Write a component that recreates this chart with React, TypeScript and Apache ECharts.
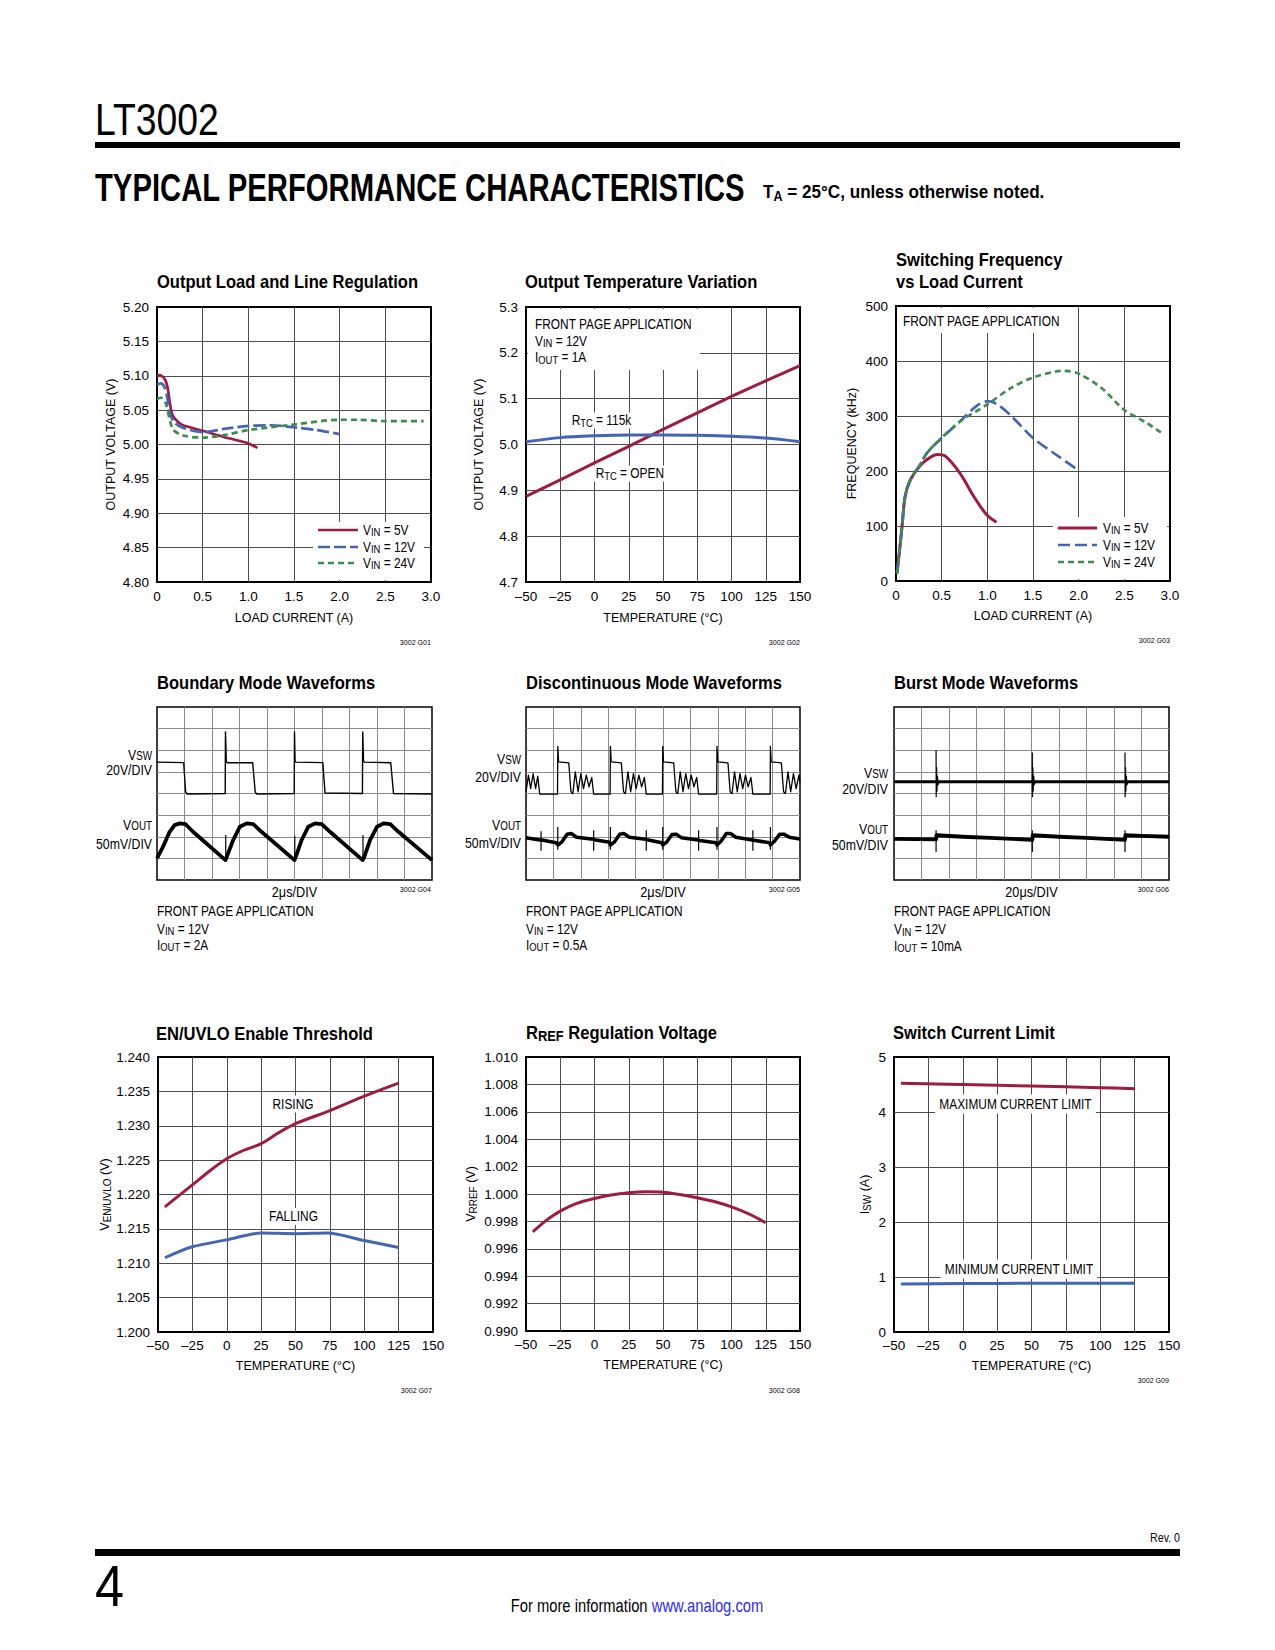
import React, { useEffect, useRef } from "react";
import * as echarts from "echarts";

const RED = "#9d1c40";
const BLUE = "#4465b4";
const GREEN = "#3d8c4c";
const GRID_C = "#4d4d4d";
const SCOPE_C = "#8a8a8a";
const SANS = "'Liberation Sans', Arial, Helvetica, sans-serif";
const COND = 0.82;

// ---------- G01 Output Load and Line Regulation (load current A, output V) ----------
const loadRegVin5: [number, number][] = [
  [0, 5.1], [0.03, 5.101], [0.06, 5.099], [0.09, 5.094], [0.117, 5.082], [0.139, 5.062],
  [0.164, 5.045], [0.2, 5.037], [0.27, 5.029], [0.36, 5.025], [0.5, 5.02], [0.73, 5.011],
  [0.99, 5.002], [1.1, 4.995],
];
const loadRegVin12: [number, number][] = [
  [0, 5.087], [0.04, 5.089], [0.08, 5.084], [0.11, 5.07], [0.146, 5.043], [0.2, 5.031],
  [0.29, 5.024], [0.5, 5.018], [0.75, 5.023], [1.0, 5.027], [1.25, 5.028], [1.5, 5.025],
  [1.75, 5.021], [2.0, 5.015],
];
const loadRegVin24: [number, number][] = [
  [0, 5.066], [0.04, 5.068], [0.09, 5.062], [0.146, 5.033], [0.18, 5.021], [0.29, 5.013],
  [0.5, 5.01], [0.75, 5.014], [1.0, 5.021], [1.5, 5.029], [2.0, 5.036], [2.2, 5.036],
  [2.5, 5.034], [2.92, 5.034],
];

// ---------- G02 Output Temperature Variation ----------
const tempVarOpen: [number, number][] = [
  [-50, 4.887], [-25, 4.923], [0, 4.96], [25, 4.996], [50, 5.033], [75, 5.069],
  [100, 5.105], [125, 5.139], [150, 5.172],
];
const tempVar115k: [number, number][] = [
  [-50, 5.006], [-25, 5.015], [0, 5.019], [25, 5.021], [50, 5.021], [75, 5.02],
  [100, 5.018], [125, 5.014], [150, 5.006],
];

// ---------- G03 Switching Frequency vs Load Current (A, kHz) ----------
const freqVin5: [number, number][] = [
  [0.011, 14], [0.036, 51], [0.066, 99], [0.1, 154], [0.157, 184], [0.266, 210],
  [0.375, 225], [0.45, 230], [0.54, 227], [0.7, 196], [0.85, 154], [0.99, 121], [1.1, 107],
];
const freqVin12: [number, number][] = [
  [0.011, 14], [0.036, 51], [0.066, 99], [0.1, 154], [0.157, 184], [0.266, 212],
  [0.34, 233], [0.48, 257], [0.7, 290], [0.88, 318], [1.0, 327], [1.1, 322], [1.25, 302],
  [1.5, 260], [1.75, 230], [2.0, 201],
];
const freqVin24: [number, number][] = [
  [0.011, 14], [0.036, 51], [0.066, 99], [0.1, 154], [0.157, 184], [0.266, 212],
  [0.34, 233], [0.48, 257], [0.7, 290], [1.0, 321], [1.25, 350], [1.5, 370], [1.75, 381],
  [1.85, 382], [2.0, 377], [2.25, 351], [2.5, 311], [2.75, 287], [2.9, 270],
];

// ---------- G04 Boundary Mode Waveforms (divisions: x 0-10, y 0-8) ----------
const boundaryVsw: [number, number][] = [
  [0, 5.45], [0.97, 5.43], [1.04, 4.08], [1.09, 3.98], [2.48, 4.0], [2.49, 6.85], [2.52, 5.5],
  [2.55, 5.42], [3.48, 5.42], [3.57, 4.08], [3.62, 3.98], [4.99, 4.0], [5.0, 6.85], [5.02, 5.5],
  [5.05, 5.45], [6.03, 5.43], [6.11, 4.02], [7.47, 4.0], [7.48, 6.85], [7.51, 5.5], [7.55, 5.45],
  [8.5, 5.42], [8.6, 4.0], [10, 3.98],
];
const boundaryVout: [number, number][] = [
  [0, 1.0], [0.22, 1.54], [0.46, 2.23], [0.64, 2.54], [0.83, 2.62], [1.04, 2.58], [1.31, 2.23],
  [2.49, 0.92], [2.54, 1.08], [2.77, 1.85], [3.01, 2.46], [3.26, 2.62], [3.5, 2.58],
  [3.8, 2.23], [5.0, 0.92], [5.05, 1.08], [5.26, 1.85], [5.5, 2.46], [5.75, 2.62],
  [5.99, 2.58], [6.29, 2.23], [7.48, 0.92], [7.54, 1.08], [7.75, 1.85], [8.0, 2.46],
  [8.24, 2.62], [8.48, 2.58], [8.78, 2.23], [10, 0.92],
];
const boundaryVoutSpikes: [number, number | null][] = [
  [2.5, 1.0], [2.5, 2.08], [2.5, null], [5.01, 1.0], [5.01, 2.03], [5.01, null], [7.49, 1.0], [7.49, 2.08],
];

// ---------- G05 Discontinuous Mode Waveforms ----------
const discVsw: [number, number][] = [
  [0, 4.08], [0.09, 4.85], [0.17, 4.23], [0.26, 4.92], [0.35, 4.23], [0.43, 4.8], [0.5, 3.97],
  [1.15, 3.97], [1.16, 6.18], [1.19, 5.46], [1.56, 5.42], [1.64, 4.08], [1.71, 4.0], [1.8, 5.0],
  [1.9, 4.08], [2.0, 4.92], [2.1, 4.23], [2.2, 4.85], [2.3, 4.31], [2.4, 4.74], [2.47, 3.97],
  [3.07, 3.97], [3.08, 6.18], [3.11, 5.46], [3.48, 5.42], [3.56, 4.08], [3.63, 4.0], [3.72, 5.0],
  [3.82, 4.08], [3.92, 4.92], [4.02, 4.23], [4.12, 4.85], [4.22, 4.31], [4.32, 4.74], [4.39, 3.97],
  [4.98, 3.97], [4.99, 6.18], [5.02, 5.46], [5.39, 5.42], [5.47, 4.08], [5.54, 4.0], [5.63, 5.0],
  [5.73, 4.08], [5.83, 4.92], [5.93, 4.23], [6.03, 4.85], [6.13, 4.31], [6.23, 4.74], [6.3, 3.97],
  [6.96, 3.97], [6.97, 6.18], [7.0, 5.46], [7.37, 5.42], [7.45, 4.08], [7.52, 4.0], [7.61, 5.0],
  [7.71, 4.08], [7.81, 4.92], [7.91, 4.23], [8.01, 4.85], [8.11, 4.31], [8.21, 4.74], [8.28, 3.97],
  [8.91, 3.97], [8.92, 6.18], [8.95, 5.46], [9.32, 5.42], [9.4, 4.08], [9.47, 4.0], [9.56, 5.0],
  [9.66, 4.08], [9.76, 4.92], [9.86, 4.23], [9.96, 4.85], [10, 4.5],
];
const discVout: [number, number][] = [
  [0, 1.95], [0.5, 1.85], [0.58, 1.85], [1.1, 1.72], [1.16, 1.62], [1.3, 1.75], [1.5, 2.12],
  [1.65, 2.15], [1.85, 1.98], [2.45, 1.88], [2.5, 1.86], [3.05, 1.75], [3.08, 1.62], [3.22, 1.75],
  [3.42, 2.12], [3.57, 2.15], [3.77, 1.98], [4.37, 1.88], [4.42, 1.86], [4.96, 1.72], [4.99, 1.62],
  [5.13, 1.75], [5.33, 2.1], [5.48, 2.12], [5.68, 1.95], [6.28, 1.85], [6.33, 1.83], [6.94, 1.72],
  [6.97, 1.62], [7.11, 1.78], [7.31, 2.15], [7.46, 2.15], [7.66, 1.98], [8.26, 1.85], [8.31, 1.84],
  [8.89, 1.72], [8.92, 1.62], [9.06, 1.78], [9.26, 2.12], [9.41, 2.12], [9.61, 1.98], [10, 1.9],
];
const discVoutSpikes: [number, number | null][] = [
  [0.55, 2.25], [0.55, 1.35], [0.55, null], [1.16, 2.45], [1.16, 1.4], [1.16, null],
  [2.47, 2.3], [2.47, 1.35], [2.47, null], [3.08, 2.45], [3.08, 1.4], [3.08, null],
  [4.39, 2.3], [4.39, 1.35], [4.39, null], [4.99, 2.45], [4.99, 1.4], [4.99, null],
  [6.3, 2.3], [6.3, 1.35], [6.3, null], [6.97, 2.45], [6.97, 1.4], [6.97, null],
  [8.28, 2.3], [8.28, 1.35], [8.28, null], [8.92, 2.45], [8.92, 1.4],
];

// ---------- G06 Burst Mode Waveforms ----------
const burstVsw: [number, number][] = [[0, 4.54], [10, 4.54]];
const burstVswSpikes: [number, number | null][] = [
  [1.53, 6.0], [1.535, 3.85], [1.55, 5.2], [1.56, 4.1], [1.58, 4.8], [1.6, 4.4], [1.65, 4.54], [1.65, null],
  [5.03, 5.9], [5.035, 3.85], [5.05, 5.2], [5.06, 4.1], [5.08, 4.8], [5.1, 4.4], [5.15, 4.54], [5.15, null],
  [8.4, 5.9], [8.405, 3.85], [8.42, 5.2], [8.43, 4.1], [8.45, 4.8], [8.47, 4.4], [8.52, 4.54],
];
const burstVout: [number, number][] = [
  [0, 1.9], [1.53, 1.88], [1.545, 2.07], [2.5, 2.0], [3.5, 1.95], [5.03, 1.86], [5.045, 2.07],
  [6.0, 2.0], [7.0, 1.95], [8.4, 1.86], [8.415, 2.07], [9.0, 2.04], [10, 2.0],
];
const burstVoutSpikes: [number, number | null][] = [
  [1.53, 2.3], [1.53, 1.3], [1.53, null], [5.03, 2.3], [5.03, 1.3], [5.03, null], [8.4, 2.3], [8.4, 1.3],
];

// ---------- G07 EN/UVLO Enable Threshold ----------
const enRising: [number, number][] = [
  [-45, 1.2182], [-25, 1.2214], [-12, 1.2235], [0, 1.2252], [12, 1.2264], [25, 1.2274],
  [37, 1.2289], [50, 1.2303], [75, 1.2322], [100, 1.2343], [125, 1.2362],
];
const enFalling: [number, number][] = [
  [-45, 1.2108], [-25, 1.2124], [0, 1.2134], [25, 1.2144], [50, 1.2143], [73, 1.2144],
  [100, 1.2133], [125, 1.2123],
];

// ---------- G08 RREF Regulation Voltage ----------
const rrefVoltage: [number, number][] = [
  [-45, 0.99724], [-35, 0.99809], [-25, 0.99875], [-13, 0.99931], [0, 0.99967], [12, 0.99992],
  [25, 1.00009], [38, 1.00016], [50, 1.00013], [62, 0.99997], [75, 0.99972], [88, 0.99943],
  [100, 0.99906], [113, 0.99853], [125, 0.9979],
];

// ---------- G09 Switch Current Limit ----------
const maxCurrentLimit: [number, number][] = [[-45, 4.521], [0, 4.502], [50, 4.472], [100, 4.442], [125, 4.424]];
const minCurrentLimit: [number, number][] = [[-45, 0.875], [0, 0.88], [50, 0.885], [100, 0.885], [125, 0.885]];

// ---------- tick label formats ----------
const fmtLoad = (v: number) => (v === 0 ? "0" : v.toFixed(1));
const fmtTemp = (v: number) => (v < 0 ? "\u2013" + Math.abs(v) : String(v));
const fmtDec = (d: number) => (v: number) => v.toFixed(d);
const fmtInt = (v: number) => String(Math.round(v));

const GRIDS = [
  { left: 157, top: 307, width: 274, height: 275 },
  { left: 526, top: 307, width: 274, height: 275 },
  { left: 896, top: 306, width: 274, height: 275 },
  { left: 157, top: 707, width: 275, height: 173 },
  { left: 526, top: 707, width: 274, height: 173 },
  { left: 894, top: 707, width: 275, height: 173 },
  { left: 158, top: 1057, width: 275, height: 275 },
  { left: 526, top: 1057, width: 274, height: 274 },
  { left: 894, top: 1057, width: 275, height: 275 },
];

const NAME_STYLE = {
  color: "#000",
  fontFamily: SANS,
  fontSize: 12.5,
  lineHeight: 15,
  rich: {
    n: { color: "#000", fontFamily: SANS, fontSize: 12.5, lineHeight: 15 },
    s: { color: "#000", fontFamily: SANS, fontSize: 10, lineHeight: 7, verticalAlign: "bottom" },
  },
};

function plotAxis(gi: number, min: number, max: number, interval: number, name: string, fmt: any, nameGap: number, margin: number) {
  return {
    type: "value",
    gridIndex: gi,
    min,
    max,
    interval,
    axisLine: { show: false },
    axisTick: { show: false },
    splitLine: { show: true, showMinLine: false, showMaxLine: false, lineStyle: { color: GRID_C, width: 1 } },
    axisLabel: {
      show: true,
      formatter: fmt,
      color: "#000",
      fontSize: 13.5,
      fontFamily: SANS,
      margin,
      showMinLabel: true,
      showMaxLabel: true,
    },
    name,
    nameLocation: "middle",
    nameGap,
    nameTextStyle: NAME_STYLE,
  };
}

function scopeAxis(gi: number, max: number) {
  return {
    type: "value",
    gridIndex: gi,
    min: 0,
    max,
    interval: 1,
    axisLine: { show: false },
    axisTick: { show: false },
    axisLabel: { show: false },
    splitLine: { show: true, showMinLine: false, showMaxLine: false, lineStyle: { color: SCOPE_C, width: 1 } },
  };
}

function ln(idx: number, name: string, data: any[], color: string, width: number, dash?: number[], smooth: number | false = 0.3) {
  return {
    type: "line",
    name,
    xAxisIndex: idx,
    yAxisIndex: idx,
    data,
    symbol: "none",
    showSymbol: false,
    smooth,
    connectNulls: false,
    silent: true,
    z: 3,
    lineStyle: { color, width, type: dash || "solid", cap: "butt", join: "round" },
  };
}

const RN = {
  n: { fontSize: 14.5, fontFamily: SANS, lineHeight: 16, fill: "#000" },
  s: { fontSize: 11.5, fontFamily: SANS, lineHeight: 8, verticalAlign: "bottom", fill: "#000" },
};
const RS = {
  n: { fontSize: 15, fontFamily: SANS, lineHeight: 13, fill: "#000" },
  s: { fontSize: 12, fontFamily: SANS, lineHeight: 6, verticalAlign: "bottom", fill: "#000" },
};
const sub = (a: string, b: string, c: string) => `{n|${a}}{s|${b}}{n|${c}}`;

function T(x: number, y: number, text: string, o: any = {}) {
  const style: any = {
    text,
    fill: o.fill || "#000",
    fontSize: o.size || 14.5,
    fontFamily: o.family || SANS,
    fontWeight: o.weight || "normal",
    textAlign: o.align || "left",
    textVerticalAlign: "middle",
  };
  if (o.rich) style.rich = o.rich;
  if (o.bg) {
    style.backgroundColor = o.bg;
    style.padding = o.pad || [1, 3];
  }
  return { type: "text", x, y, scaleX: o.sx || COND, z: o.z || 10, silent: true, style };
}
const TITLE = { weight: "bold", size: 18, sx: 0.92 };
const CODE = { size: 7.5, align: "right", sx: 0.95 };
const rect = (x: number, y: number, w: number, h: number, fill = "#fff", z = 1) => ({
  type: "rect",
  shape: { x, y, width: w, height: h },
  style: { fill },
  z,
  silent: true,
});
const seg = (x1: number, x2: number, y: number, color: string, w: number, dash?: number[]) => ({
  type: "line",
  shape: { x1, y1: y, x2, y2: y },
  style: { stroke: color, lineWidth: w, lineDash: dash || null },
  z: 5,
  silent: true,
});

function buildGraphic() {
  const HDR_RICH = {
    b: { fontSize: 19, fontWeight: "bold", fontFamily: SANS, lineHeight: 22, fill: "#000" },
    bs: { fontSize: 14, fontWeight: "bold", fontFamily: SANS, lineHeight: 10, verticalAlign: "bottom", fill: "#000" },
  };
  const T8_RICH = {
    b: { fontSize: 18, fontWeight: "bold", fontFamily: SANS, lineHeight: 21, fill: "#000" },
    bs: { fontSize: 14, fontWeight: "bold", fontFamily: SANS, lineHeight: 10, verticalAlign: "bottom", fill: "#000" },
  };
  const FOOT_RICH = {
    a: { fontSize: 18, fontFamily: SANS, fill: "#000" },
    l: { fontSize: 18, fontFamily: SANS, fill: "#2b2bff" },
  };
  return [
    // header
    T(95, 120, "LT3002", { size: 45, sx: 0.83 }),
    rect(95, 142, 1085, 6, "#000", 5),
    T(95, 188, "TYPICAL PERFORMANCE CHARACTERISTICS", { weight: 900, size: 38, sx: 0.77 }),
    T(763, 192, "{b|T}{bs|A}{b| = 25°C, unless otherwise noted.}", { rich: HDR_RICH, sx: 0.9 }),

    // G01
    T(157, 281.5, "Output Load and Line Regulation", TITLE),
    rect(313, 522, 111, 58),
    seg(318, 358, 530, RED, 2.7),
    seg(318, 358, 547, BLUE, 2.7, [12, 4]),
    seg(318, 358, 563, GREEN, 2.7, [6, 4]),
    T(363, 530, sub("V", "IN", " = 5V"), { rich: RN }),
    T(363, 547, sub("V", "IN", " = 12V"), { rich: RN }),
    T(363, 563, sub("V", "IN", " = 24V"), { rich: RN }),
    T(431, 642, "3002 G01", CODE),

    // G02
    T(525, 282, "Output Temperature Variation", TITLE),
    rect(528, 309, 172, 61),
    T(535, 324, "FRONT PAGE APPLICATION"),
    T(535, 341, sub("V", "IN", " = 12V"), { rich: RN }),
    T(535, 357.5, sub("I", "OUT", " = 1A"), { rich: RN }),
    T(570, 420.5, sub("R", "TC", " = 115k"), { rich: RN, bg: "#fff", pad: [0, 2] }),
    T(594, 473.5, sub("R", "TC", " = OPEN"), { rich: RN, bg: "#fff", pad: [0, 2] }),
    T(800, 642, "3002 G02", CODE),

    // G03
    T(896, 260, "Switching Frequency", TITLE),
    T(896, 282, "vs Load Current", TITLE),
    rect(898, 308, 175, 25),
    T(903, 321, "FRONT PAGE APPLICATION"),
    rect(1053, 517, 114, 62),
    seg(1058, 1097, 528, RED, 3),
    seg(1058, 1097, 545, BLUE, 2.7, [12, 5]),
    seg(1058, 1097, 562, GREEN, 2.7, [6, 4]),
    T(1103, 528, sub("V", "IN", " = 5V"), { rich: RN }),
    T(1103, 545, sub("V", "IN", " = 12V"), { rich: RN }),
    T(1103, 562, sub("V", "IN", " = 24V"), { rich: RN }),
    T(1170, 640, "3002 G03", CODE),

    // G04
    T(157, 683, "Boundary Mode Waveforms", TITLE),
    T(152, 755, sub("V", "SW", ""), { rich: RS, align: "right" }),
    T(152, 770.5, "20V/DIV", { size: 15, align: "right" }),
    T(152, 825, sub("V", "OUT", ""), { rich: RS, align: "right" }),
    T(152, 844, "50mV/DIV", { size: 15, align: "right" }),
    T(294.5, 891.5, "2\u03bcs/DIV", { size: 15.5, align: "center" }),
    T(431, 889, "3002 G04", CODE),
    T(157, 911.5, "FRONT PAGE APPLICATION"),
    T(157, 929, sub("V", "IN", " = 12V"), { rich: RN }),
    T(157, 945, sub("I", "OUT", " = 2A"), { rich: RN }),

    // G05
    T(526, 683, "Discontinuous Mode Waveforms", TITLE),
    T(521, 759, sub("V", "SW", ""), { rich: RS, align: "right" }),
    T(521, 777, "20V/DIV", { size: 15, align: "right" }),
    T(521, 825, sub("V", "OUT", ""), { rich: RS, align: "right" }),
    T(521, 843, "50mV/DIV", { size: 15, align: "right" }),
    T(663, 891.5, "2\u03bcs/DIV", { size: 15.5, align: "center" }),
    T(800, 889, "3002 G05", CODE),
    T(526, 911.5, "FRONT PAGE APPLICATION"),
    T(526, 929, sub("V", "IN", " = 12V"), { rich: RN }),
    T(526, 945, sub("I", "OUT", " = 0.5A"), { rich: RN }),

    // G06
    T(894, 683, "Burst Mode Waveforms", TITLE),
    T(888, 773.5, sub("V", "SW", ""), { rich: RS, align: "right" }),
    T(888, 789, "20V/DIV", { size: 15, align: "right" }),
    T(888, 829, sub("V", "OUT", ""), { rich: RS, align: "right" }),
    T(888, 845, "50mV/DIV", { size: 15, align: "right" }),
    T(1031.5, 891.5, "20\u03bcs/DIV", { size: 15.5, align: "center" }),
    T(1169, 889, "3002 G06", CODE),
    T(894, 911.5, "FRONT PAGE APPLICATION"),
    T(894, 929.5, sub("V", "IN", " = 12V"), { rich: RN }),
    T(894, 946, sub("I", "OUT", " = 10mA"), { rich: RN }),

    // G07
    T(156, 1034, "EN/UVLO Enable Threshold", TITLE),
    T(293, 1104, "RISING", { align: "center", bg: "#fff", pad: [1, 4] }),
    T(293.5, 1216.5, "FALLING", { align: "center", bg: "#fff", pad: [1, 4] }),
    T(432, 1390, "3002 G07", CODE),

    // G08
    T(526, 1033, "{b|R}{bs|REF}{b| Regulation Voltage}", { rich: T8_RICH, sx: 0.92 }),
    T(800, 1390, "3002 G08", CODE),

    // G09
    T(893, 1033, "Switch Current Limit", TITLE),
    T(1015.5, 1104, "MAXIMUM CURRENT LIMIT", { align: "center", bg: "#fff", pad: [2, 5] }),
    T(1019, 1269, "MINIMUM CURRENT LIMIT", { align: "center", bg: "#fff", pad: [2, 5] }),
    T(1169, 1380, "3002 G09", CODE),

    // footer
    T(1180, 1537, "Rev. 0", { size: 12.5, align: "right", sx: 0.85 }),
    rect(95, 1549, 1085, 7, "#000", 5),
    T(95, 1586, "4", { size: 58, sx: 0.9 }),
    T(637, 1605, "{a|For more information }{l|www.analog.com}", { rich: FOOT_RICH, align: "center", sx: 0.82 }),
  ];
}

function buildOption() {
  const grid = GRIDS.map((g, i) => ({
    ...g,
    show: true,
    containLabel: false,
    backgroundColor: "transparent",
    borderColor: "#000",
    borderWidth: i >= 3 && i <= 5 ? 1.5 : 2,
  }));

  const xAxis = [
    plotAxis(0, 0, 3, 0.5, "LOAD CURRENT (A)", fmtLoad, 28, 7),
    plotAxis(1, -50, 150, 25, "TEMPERATURE (°C)", fmtTemp, 28, 7),
    plotAxis(2, 0, 3, 0.5, "LOAD CURRENT (A)", fmtLoad, 27, 7),
    scopeAxis(3, 10),
    scopeAxis(4, 10),
    scopeAxis(5, 10),
    plotAxis(6, -50, 150, 25, "TEMPERATURE (°C)", fmtTemp, 26, 6),
    plotAxis(7, -50, 150, 25, "TEMPERATURE (°C)", fmtTemp, 26, 6),
    plotAxis(8, -50, 150, 25, "TEMPERATURE (°C)", fmtTemp, 26, 6),
  ];
  const yAxis = [
    plotAxis(0, 4.8, 5.2, 0.05, "OUTPUT VOLTAGE (V)", fmtDec(2), 39, 8),
    plotAxis(1, 4.7, 5.3, 0.1, "OUTPUT VOLTAGE (V)", fmtDec(1), 40, 8),
    plotAxis(2, 0, 500, 100, "FREQUENCY (kHz)", fmtInt, 37, 8),
    scopeAxis(3, 8),
    scopeAxis(4, 8),
    scopeAxis(5, 8),
    plotAxis(6, 1.2, 1.24, 0.005, sub("V", "EN/UVLO", " (V)"), fmtDec(3), 46, 8),
    plotAxis(7, 0.99, 1.01, 0.002, sub("V", "RREF", " (V)"), fmtDec(3), 48, 8),
    plotAxis(8, 0, 5, 1, sub("I", "SW", " (A)"), fmtInt, 22, 8),
  ];

  const series = [
    ln(0, "VIN = 5V", loadRegVin5, RED, 2.7),
    ln(0, "VIN = 12V", loadRegVin12, BLUE, 2.7, [12, 4]),
    ln(0, "VIN = 24V", loadRegVin24, GREEN, 2.7, [6, 4]),
    ln(1, "RTC = OPEN", tempVarOpen, RED, 3, undefined, false),
    ln(1, "RTC = 115k", tempVar115k, BLUE, 3),
    ln(2, "VIN = 5V", freqVin5, RED, 3),
    ln(2, "VIN = 12V", freqVin12, BLUE, 2.7, [12, 5]),
    ln(2, "VIN = 24V", freqVin24, GREEN, 2.7, [6, 4]),
    ln(3, "VSW", boundaryVsw, "#000", 1.4, undefined, false),
    ln(3, "VOUT", boundaryVout, "#000", 3.8, undefined, false),
    ln(3, "VOUT spikes", boundaryVoutSpikes, "#000", 1.2, undefined, false),
    ln(4, "VSW", discVsw, "#000", 1.3, undefined, false),
    ln(4, "VOUT", discVout, "#000", 3.5, undefined, false),
    ln(4, "VOUT spikes", discVoutSpikes, "#000", 1.2, undefined, false),
    ln(5, "VSW", burstVsw, "#000", 3, undefined, false),
    ln(5, "VSW spikes", burstVswSpikes, "#000", 1.2, undefined, false),
    ln(5, "VOUT", burstVout, "#000", 3.8, undefined, false),
    ln(5, "VOUT spikes", burstVoutSpikes, "#000", 1.2, undefined, false),
    ln(6, "RISING", enRising, RED, 3),
    ln(6, "FALLING", enFalling, BLUE, 3),
    ln(7, "VRREF", rrefVoltage, RED, 3),
    ln(8, "MAXIMUM CURRENT LIMIT", maxCurrentLimit, RED, 3),
    ln(8, "MINIMUM CURRENT LIMIT", minCurrentLimit, BLUE, 3),
  ];

  return {
    animation: false,
    backgroundColor: "#fff",
    grid,
    xAxis,
    yAxis,
    series,
    graphic: { elements: buildGraphic() },
  };
}

export default function App() {
  const ref = useRef<HTMLDivElement>(null);
  useEffect(() => {
    if (!ref.current) return;
    const chart = echarts.init(ref.current, null, { renderer: "svg" });
    chart.setOption(buildOption() as any);
    return () => chart.dispose();
  }, []);
  return (
    <div
      ref={ref}
      style={{ position: "absolute", left: 0, top: 0, width: 1275, height: 1650, background: "#fff" }}
    />
  );
}
